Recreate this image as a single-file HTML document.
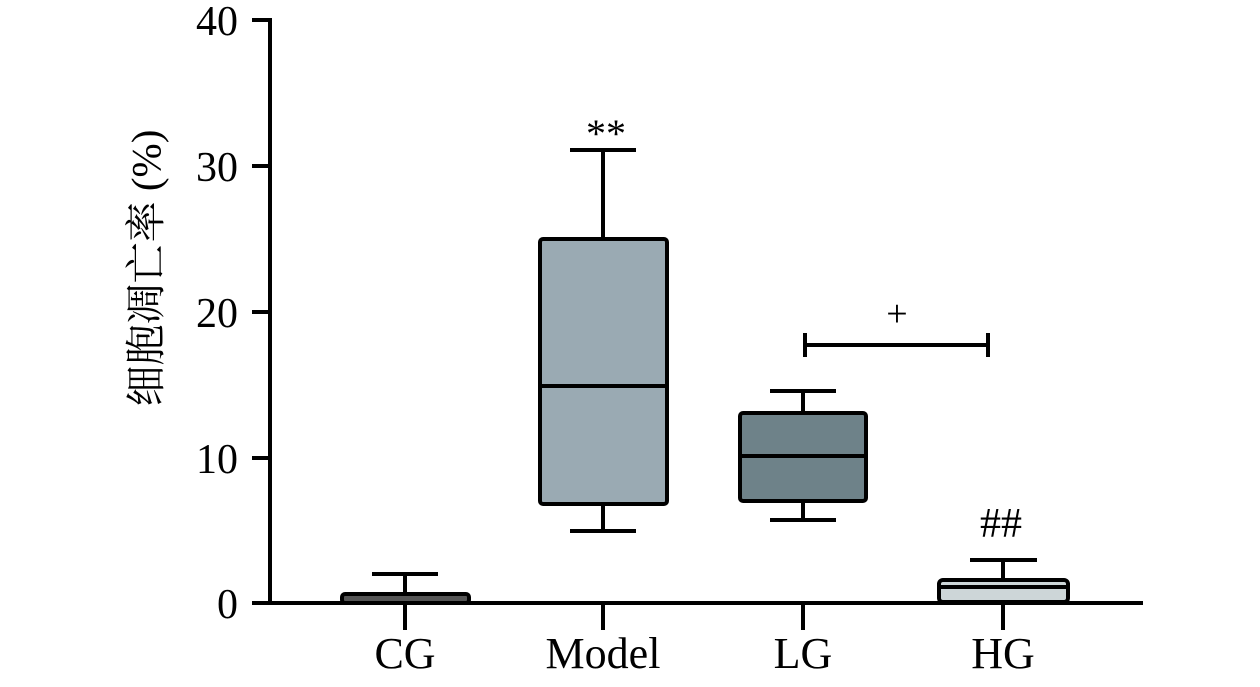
<!DOCTYPE html>
<html><head><meta charset="utf-8"><style>
body{margin:0;background:#fff}
svg text{font-family:"Liberation Serif","Noto Serif CJK SC",serif;fill:#000}
</style></head><body>
<svg width="1260" height="682" viewBox="0 0 1260 682" xmlns="http://www.w3.org/2000/svg">
<g stroke="#000" stroke-width="4" fill="none">
<line x1="270" y1="18" x2="270" y2="605"/>
<line x1="268" y1="603" x2="1143" y2="603"/>
<line x1="252" y1="20" x2="270" y2="20"/>
<line x1="252" y1="166" x2="270" y2="166"/>
<line x1="252" y1="312" x2="270" y2="312"/>
<line x1="252" y1="458" x2="270" y2="458"/>
<line x1="252" y1="603" x2="270" y2="603"/>
<line x1="405" y1="603" x2="405" y2="630"/>
<line x1="603" y1="603" x2="603" y2="630"/>
<line x1="803" y1="603" x2="803" y2="630"/>
<line x1="1003" y1="603" x2="1003" y2="630"/>
</g>
<g font-size="42" text-anchor="end">
<text x="238" y="35">40</text><text x="238" y="181">30</text><text x="238" y="327">20</text><text x="238" y="473">10</text><text x="238" y="618">0</text>
</g>
<g font-size="44" text-anchor="middle">
<text x="405" y="668">CG</text><text x="603" y="668">Model</text><text x="803" y="668">LG</text><text x="1003" y="668">HG</text>
</g>
<text transform="translate(160,268) rotate(-90)" font-size="41" text-anchor="middle">细胞凋亡率 (%)</text>
<g stroke="#000" stroke-width="4">
<line x1="405" y1="574" x2="405" y2="596"/><line x1="372" y1="574" x2="438" y2="574"/>
<rect x="342" y="594" width="127" height="9" rx="3" fill="#555"/>
<line x1="603" y1="150" x2="603" y2="239"/><line x1="570" y1="150" x2="636" y2="150"/>
<line x1="603" y1="504" x2="603" y2="531"/><line x1="570" y1="531" x2="636" y2="531"/>
<rect x="540" y="239" width="127" height="265" rx="3" fill="#9aaab3"/>
<line x1="540" y1="386" x2="667" y2="386"/>
<line x1="803" y1="391" x2="803" y2="413"/><line x1="770" y1="391" x2="836" y2="391"/>
<line x1="803" y1="501" x2="803" y2="520"/><line x1="770" y1="520" x2="836" y2="520"/>
<rect x="740" y="413" width="126" height="88" rx="3" fill="#6e8289"/>
<line x1="740" y1="456" x2="866" y2="456"/>
<line x1="1003" y1="560" x2="1003" y2="580"/><line x1="970" y1="560" x2="1037" y2="560"/>
<rect x="939" y="580" width="129" height="22" rx="4" fill="#cdd6d8"/>
<line x1="939" y1="587" x2="1068" y2="587"/>
<line x1="805" y1="345" x2="988" y2="345"/>
<line x1="805" y1="333" x2="805" y2="357"/><line x1="988" y1="333" x2="988" y2="357"/>
</g>
<text x="606" y="147" font-size="40" text-anchor="middle">**</text>
<text x="897" y="326" font-size="38" text-anchor="middle">+</text>
<text x="1001" y="537" font-size="42" text-anchor="middle">##</text>
</svg>
</body></html>
